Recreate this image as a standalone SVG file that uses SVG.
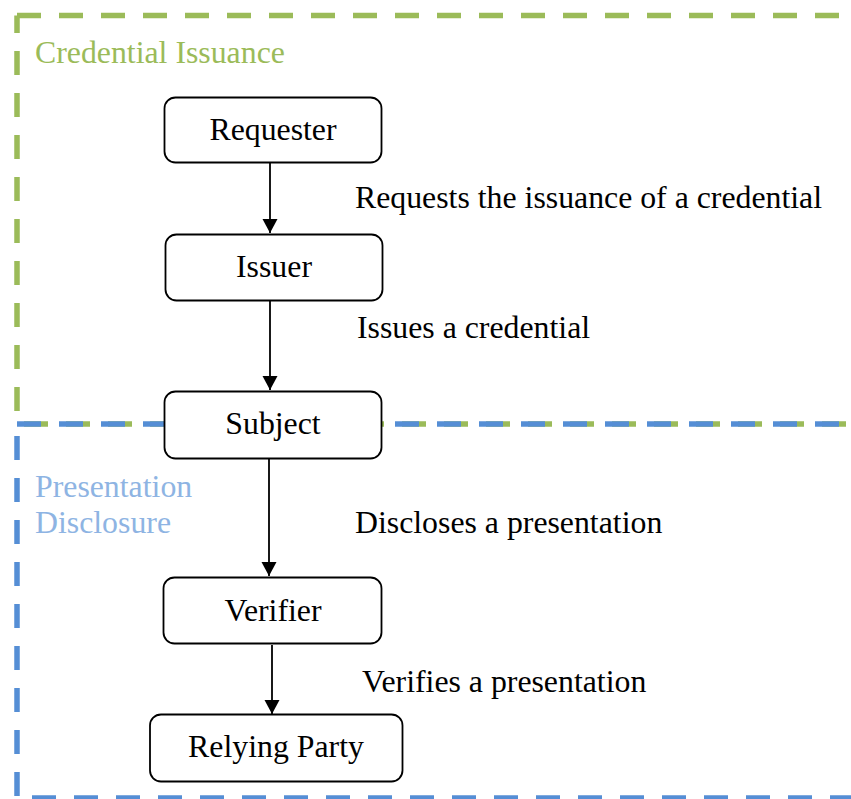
<svg xmlns="http://www.w3.org/2000/svg" width="851" height="799" viewBox="0 0 851 799">
<style>
text{font-family:"Liberation Serif","Times New Roman",serif;font-size:31.8px;fill:#000}
.g{fill:none;stroke:#9BBB59;stroke-width:5.5;stroke-dasharray:24 18}
.b{fill:none;stroke:#558ED5;stroke-width:5.5;stroke-dasharray:24 18}
.node rect{fill:#fff;stroke:#000;stroke-width:1.8}
.node text{text-anchor:middle}
.edge{stroke:#000;stroke-width:1.8;fill:none;marker-end:url(#ah)}
</style>
<defs>
<marker id="ah" markerUnits="userSpaceOnUse" markerWidth="16" markerHeight="16" viewBox="0 0 16 16" refX="14" refY="8" orient="auto">
<path d="M0,0.5 L14,8 L0,15.5 Z" fill="#000"/>
</marker>
</defs>
<g id="credential-issuance">
<path class="g" d="M17,15.5 H851"/>
<path class="g" d="M17,15.5 V424" stroke-dashoffset="6.5"/>
<path class="g" d="M17,424 H851" stroke-dashoffset="-7"/>
<text x="35" y="63" style="fill:#9BBB59">Credential Issuance</text>
</g>
<g id="presentation-disclosure">
<path class="b" d="M17,424 H851"/>
<path class="b" d="M17,424 V798" stroke-dashoffset="-12"/>
<path class="b" d="M17,798 H851" stroke-dashoffset="-15"/>
<text x="35" y="497" style="fill:#8EB4E3">Presentation</text>
<text x="35" y="533" style="fill:#8EB4E3">Disclosure</text>
</g>
<g id="connectors">
<line class="edge" x1="270" y1="163" x2="270" y2="233"/>
<line class="edge" x1="270" y1="301" x2="270" y2="390"/>
<line class="edge" x1="269" y1="459" x2="269" y2="576"/>
<line class="edge" x1="272" y1="645" x2="272" y2="714"/>
<text x="355" y="208">Requests the issuance of a credential</text>
<text x="357" y="338">Issues a credential</text>
<text x="355" y="533">Discloses a presentation</text>
<text x="362" y="692">Verifies a presentation</text>
</g>
<g id="requester" class="node">
<rect x="164.5" y="97.5" width="217" height="65" rx="11"/>
<text x="273" y="140">Requester</text>
</g>
<g id="issuer" class="node">
<rect x="165.5" y="234.5" width="217" height="66" rx="11"/>
<text x="274" y="277">Issuer</text>
</g>
<g id="subject" class="node">
<rect x="164.5" y="391.5" width="217" height="67" rx="11"/>
<text x="273" y="434">Subject</text>
</g>
<g id="verifier" class="node">
<rect x="163.5" y="577.5" width="218" height="66" rx="11"/>
<text x="273" y="621">Verifier</text>
</g>
<g id="relying-party" class="node">
<rect x="150" y="714.5" width="252.5" height="67" rx="11"/>
<text x="276" y="757">Relying Party</text>
</g>
</svg>
